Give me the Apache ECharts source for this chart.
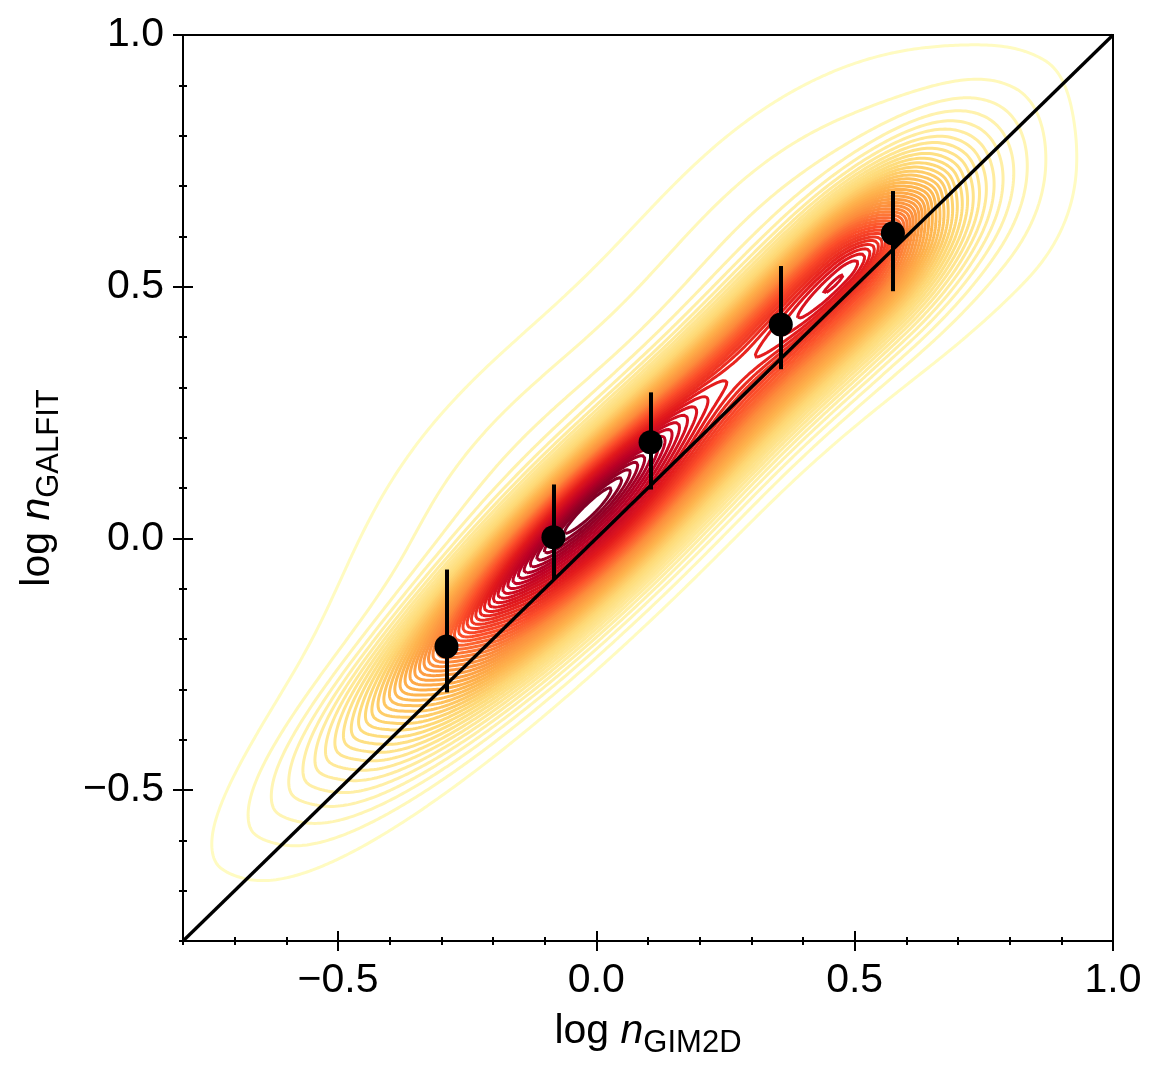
<!DOCTYPE html>
<html>
<head>
<meta charset="utf-8">
<script src="https://cdn.jsdelivr.net/npm/echarts@6/dist/echarts.min.js"></script>
<style>
html,body{margin:0;padding:0;background:#fff}
#container{width:1164px;height:1078px}
</style>
</head>
<body>
<div id="container"></div>
<script>
// binned medians with error bars
var ptX   = [-0.290, -0.083, 0.105, 0.357, 0.574];
var ptY   = [-0.215,  0.002, 0.191, 0.425, 0.606];
var errLo = [-0.306, -0.082, 0.097, 0.336, 0.491];
var errHi = [-0.062,  0.107, 0.290, 0.541, 0.690];

// one-to-one line
var diagX = [-0.8, 1.0];

// density blobs, in rotated frame
// u = along the diagonal, v = across it (positive = above y=x)
// cores, two narrow ridge humps, upper-left halo, upper-right and lower-left tails
var compU    = [0.00, 0.71, 0.00, 0.75, 0.00, 0.70, 0.95, -0.60];
var compV    = [0.045, 0.045, 0.052, 0.030, 0.06, 0.06, -0.05, 0.08];
var compSuLo = [0.34, 0.30, 0.30, 0.20, 0.30, 0.30, 0.30, 0.25];
var compSuHi = [0.28, 0.17, 0.20, 0.12, 0.30, 0.30, 0.18, 0.25];
var compSvDn = [0.105, 0.105, 0.022, 0.020, 0.08, 0.08, 0.13, 0.10];
var compSvUp = [0.070, 0.070, 0.020, 0.020, 0.19, 0.19, 0.12, 0.13];
var compPDn  = [2.5, 2.5, 2, 2, 2, 2, 2, 2];
var compPUp  = [2.4, 2.4, 2, 2, 2, 2, 2, 2];
var compW    = [0.75, 0.55, 0.10, 0.08, 0.08, 0.08, 0.045, 0.02];

var nLevels = 50;
var ylorrd = ['#ffffcc','#ffeda0','#fed976','#feb24c','#fd8d3c','#fc4e2a','#e31a1c','#bd0026','#800026'];

// ticks
var majorTicks = [-0.5, 0.0, 0.5, 1.0];
var minorTicks = [-0.8,-0.7,-0.6,-0.5,-0.4,-0.3,-0.2,-0.1,0.0,0.1,0.2,0.3,0.4,0.5,0.6,0.7,0.8,0.9,1.0];

function density(x, y) {
	var u = (x + y) / Math.SQRT2, v = (y - x) / Math.SQRT2;
	var s = 0;
	for (var k = 0; k < compW.length; k++) {
		var du = u - compU[k], dv = v - compV[k];
		var su = du < 0 ? compSuLo[k] : compSuHi[k];
		var a = du * du / (su * su), b;
		if (dv < 0) b = Math.pow(-dv / compSvDn[k], compPDn[k]);
		else b = Math.pow(dv / compSvUp[k], compPUp[k]);
		s += compW[k] * Math.exp(-0.5 * (a + b));
	}
	return s;
}

function cmap(t) {
	t = Math.max(0, Math.min(1, t)) * (ylorrd.length - 1);
	var i = Math.min(Math.floor(t), ylorrd.length - 2), f = t - i;
	var c0 = echarts.color.parse(ylorrd[i]), c1 = echarts.color.parse(ylorrd[i + 1]);
	var r = Math.round(c0[0] + (c1[0] - c0[0]) * f);
	var g = Math.round(c0[1] + (c1[1] - c0[1]) * f);
	var b = Math.round(c0[2] + (c1[2] - c0[2]) * f);
	return 'rgb(' + r + ',' + g + ',' + b + ')';
}

// grid of density values
var X0 = -0.8, STEP = 0.005;
var NX = Math.round(1.8 / STEP) + 1, NN = NX * NX;
var field = new Float64Array(NN), fmax = 0;
for (var j = 0; j < NX; j++) {
	for (var i = 0; i < NX; i++) {
		var val = density(X0 + i * STEP, X0 + j * STEP);
		field[j * NX + i] = val;
		if (val > fmax) fmax = val;
	}
}

// marching squares + stitching
var nbA = new Int32Array(2 * NN).fill(-1), nbB = new Int32Array(2 * NN).fill(-1);
var seen = new Uint8Array(2 * NN);
var touched = [];
function link(a, b) {
	if (nbA[a] < 0) { nbA[a] = b; touched.push(a); } else nbB[a] = b;
	if (nbA[b] < 0) { nbA[b] = a; touched.push(b); } else nbB[b] = a;
}
function edgePoint(e, L) {
	var i, j, a, b, t;
	if (e < NN) {
		j = Math.floor(e / NX); i = e - j * NX;
		a = field[e]; b = field[e + 1]; t = (L - a) / (b - a);
		return [X0 + (i + t) * STEP, X0 + j * STEP];
	}
	e -= NN;
	j = Math.floor(e / NX); i = e - j * NX;
	a = field[e]; b = field[e + NX]; t = (L - a) / (b - a);
	return [X0 + i * STEP, X0 + (j + t) * STEP];
}
function walk(start) {
	var path = [start], cur = start, n;
	seen[start] = 1;
	while (true) {
		n = nbA[cur];
		if (n < 0 || seen[n]) { n = nbB[cur]; if (n < 0 || seen[n]) n = -1; }
		if (n < 0) break;
		seen[n] = 1; path.push(n); cur = n;
	}
	if (path.length > 2 && (nbA[cur] === start || nbB[cur] === start)) path.push(start);
	return path;
}
function contour(L) {
	touched = [];
	for (var j = 0; j < NX - 1; j++) {
		for (var i = 0; i < NX - 1; i++) {
			var p = j * NX + i;
			var v00 = field[p], v10 = field[p + 1], v11 = field[p + NX + 1], v01 = field[p + NX];
			var c = (v00 >= L ? 1 : 0) | (v10 >= L ? 2 : 0) | (v11 >= L ? 4 : 0) | (v01 >= L ? 8 : 0);
			if (c === 0 || c === 15) continue;
			var e0 = p, e1 = NN + p + 1, e2 = p + NX, e3 = NN + p;
			if (c === 5 || c === 10) {
				var mid = (v00 + v10 + v11 + v01) / 4 >= L;
				if ((c === 5) === mid) { link(e0, e1); link(e2, e3); }
				else { link(e3, e0); link(e1, e2); }
				continue;
			}
			var b0 = c & 1, b1 = (c >> 1) & 1, b2 = (c >> 2) & 1, b3 = (c >> 3) & 1;
			var es = [];
			if (b0 !== b1) es.push(e0);
			if (b1 !== b2) es.push(e1);
			if (b3 !== b2) es.push(e2);
			if (b0 !== b3) es.push(e3);
			link(es[0], es[1]);
		}
	}
	var paths = [], k, e;
	for (k = 0; k < touched.length; k++) {
		e = touched[k];
		if (!seen[e] && nbB[e] < 0) paths.push(walk(e));
	}
	for (k = 0; k < touched.length; k++) {
		e = touched[k];
		if (!seen[e]) paths.push(walk(e));
	}
	var out = paths.map(function (pa) {
		return pa.map(function (ed) { return edgePoint(ed, L); });
	});
	for (k = 0; k < touched.length; k++) {
		e = touched[k]; nbA[e] = -1; nbB[e] = -1; seen[e] = 0;
	}
	return out;
}

var LW = 3.0;
var contourData = [];
for (var lv = 1; lv <= nLevels; lv++) {
	var L = fmax * lv / (nLevels + 1);
	var col = cmap(0.03 + 0.97 * (lv - 1) / (nLevels - 1));
	contour(L).forEach(function (pts) {
		if (pts.length > 1) contourData.push({ coords: pts, lineStyle: { color: col, width: LW, opacity: 1 } });
	});
}

var errData = ptX.map(function (x, i) {
	return { coords: [[x, errLo[i]], [x, errHi[i]]] };
});
var ptData = ptX.map(function (x, i) { return [x, ptY[i]]; });
var diagData = diagX.map(function (x) { return [x, x]; });

function fmt(v) { return (Math.abs(v) < 1e-9 ? 0 : v).toFixed(1).replace('-', '\u2212'); }

var FONT = 'Liberation Sans';
var nameRich = {
	a: { fontSize: 41, fontFamily: FONT, color: '#000', lineHeight: 48, verticalAlign: 'top' },
	i: { fontSize: 41, fontFamily: FONT, fontStyle: 'italic', color: '#000', lineHeight: 48, verticalAlign: 'top' },
	s: { fontSize: 31, fontFamily: FONT, color: '#000', lineHeight: 28, verticalAlign: 'bottom' }
};

function majorAxis(pos, name, gap, labelMargin) {
	return {
		type: 'value', min: -0.8, max: 1.0, position: pos, offset: -10,
		axisLine: { show: false, onZero: false },
		splitLine: { show: false },
		axisTick: { show: true, length: 20, customValues: majorTicks, lineStyle: { color: '#000', width: 2 } },
		axisLabel: { customValues: majorTicks, formatter: fmt, fontSize: 41, fontFamily: FONT, color: '#000', margin: labelMargin },
		name: name, nameLocation: 'middle', nameGap: gap,
		nameTextStyle: { rich: nameRich }
	};
}
function minorAxis(pos) {
	return {
		type: 'value', min: -0.8, max: 1.0, position: pos, offset: -4,
		axisLine: { show: false, onZero: false },
		splitLine: { show: false },
		axisTick: { show: true, length: 8, customValues: minorTicks, lineStyle: { color: '#000', width: 2 } },
		axisLabel: { show: false }
	};
}

var dom = document.getElementById('container');
var myChart = echarts.init(dom);
var option = {
	animation: false,
	backgroundColor: '#fff',
	grid: { left: 183, top: 35, width: 930, height: 906, show: true, borderColor: '#000', borderWidth: 2, backgroundColor: 'transparent' },
	xAxis: [
		majorAxis('bottom', '{a|log }{i|n}{s|GIM2D}', 80, 29),
		minorAxis('bottom')
	],
	yAxis: [
		majorAxis('left', '{a|log }{i|n}{s|GALFIT}', 128, 29),
		minorAxis('left')
	],
	series: [{
		type: 'lines',
		coordinateSystem: 'cartesian2d',
		polyline: true,
		silent: true,
		progressive: 0,
		z: 1,
		lineStyle: { width: LW, opacity: 1 },
		data: contourData
	}, {
		type: 'line',
		data: diagData,
		symbol: 'none',
		silent: true,
		z: 3,
		lineStyle: { color: '#000', width: 3.3 }
	}, {
		type: 'lines',
		coordinateSystem: 'cartesian2d',
		silent: true,
		z: 4,
		lineStyle: { color: '#000', width: 4, opacity: 1 },
		data: errData
	}, {
		type: 'scatter',
		data: ptData,
		symbol: 'circle',
		symbolSize: 24,
		silent: true,
		z: 5,
		itemStyle: { color: '#000', opacity: 1 }
	}]
};
myChart.setOption(option, true);
</script>
</body>
</html>
